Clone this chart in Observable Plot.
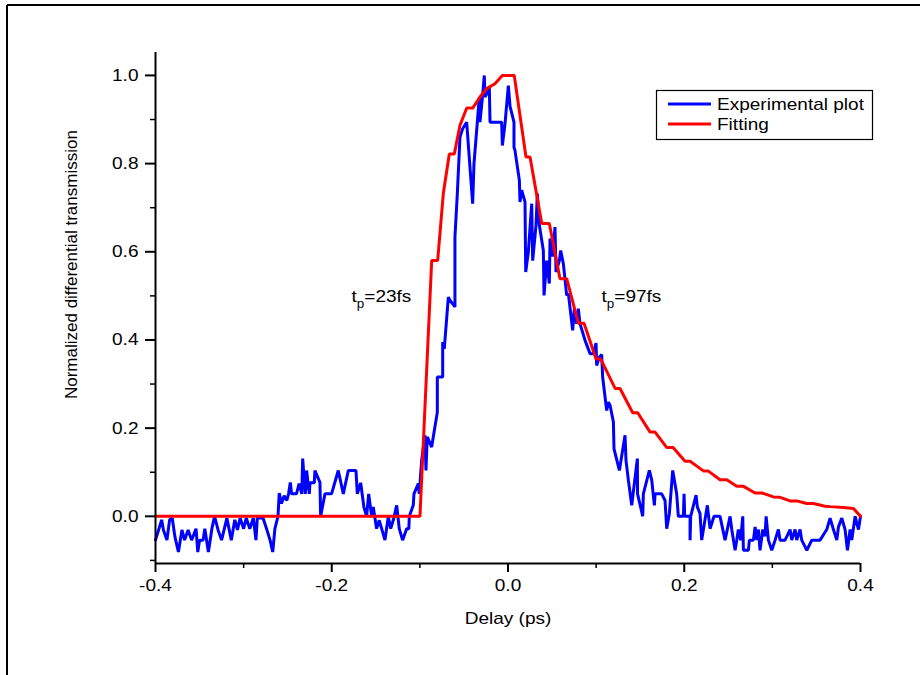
<!DOCTYPE html>
<html>
<head>
<meta charset="utf-8">
<script src="https://cdn.jsdelivr.net/npm/d3@7"></script>
<script src="https://cdn.jsdelivr.net/npm/@observablehq/plot@0.6"></script>
<style>
  html, body { margin: 0; padding: 0; background: #fff; }
  #chart { position: relative; width: 920px; height: 675px; }
</style>
</head>
<body>
<div id="chart"></div>
<script>
// Delay (ps), normalized differential transmission
const experimental = [
  [-0.400,-0.054],[-0.393,-0.008],[-0.391,-0.031],[-0.387,-0.054],[-0.384,-0.008],[-0.381,-0.004],[-0.378,-0.046],[-0.374,-0.081],[-0.370,-0.031],[-0.367,-0.054],
  [-0.363,-0.031],[-0.359,-0.054],[-0.354,-0.028],[-0.352,-0.081],[-0.350,-0.054],[-0.346,-0.054],[-0.344,-0.028],[-0.340,-0.081],[-0.336,-0.028],[-0.333,0.000],
  [-0.329,-0.031],[-0.325,-0.054],[-0.319,-0.004],[-0.314,-0.054],[-0.310,-0.008],[-0.307,-0.031],[-0.304,-0.004],[-0.300,-0.028],[-0.297,-0.004],[-0.293,-0.028],
  [-0.289,-0.004],[-0.286,-0.054],[-0.2845,-0.004],[-0.278,-0.004],[-0.274,-0.028],[-0.270,-0.054],[-0.267,-0.081],[-0.2645,-0.028],[-0.261,0.000],[-0.2596,0.053],
  [-0.257,0.029],[-0.254,0.047],[-0.251,0.036],[-0.249,0.051],[-0.247,0.077],[-0.2456,0.051],[-0.240,0.051],[-0.237,0.074],[-0.234,0.051],[-0.233,0.131],
  [-0.230,0.051],[-0.2285,0.104],[-0.2255,0.051],[-0.2247,0.076],[-0.2198,0.076],[-0.2191,0.104],[-0.2134,0.077],[-0.2126,0.000],[-0.2077,0.051],[-0.2002,0.051],
  [-0.1926,0.104],[-0.1869,0.051],[-0.1812,0.104],[-0.1725,0.104],[-0.1710,0.051],[-0.1672,0.076],[-0.1635,0.021],[-0.1604,0.000],[-0.1581,0.051],[-0.1547,0.000],
  [-0.1529,0.021],[-0.1491,-0.028],[-0.1461,-0.009],[-0.1396,-0.054],[-0.1358,0.000],[-0.1331,-0.028],[-0.1302,-0.009],[-0.1263,0.025],[-0.1234,-0.028],[-0.1196,-0.054],
  [-0.1150,-0.028],[-0.1125,-0.028],[-0.1120,0.000],[-0.1075,0.025],[-0.1067,0.051],[-0.1018,0.074],[-0.1007,0.051],[-0.0980,0.127],[-0.0942,0.184],[-0.0931,0.104],
  [-0.0916,0.180],[-0.0866,0.157],[-0.0848,0.180],[-0.0802,0.236],[-0.0802,0.316],[-0.0741,0.316],[-0.0741,0.395],[-0.0723,0.380],[-0.0677,0.497],[-0.0658,0.490],
  [-0.0602,0.475],[-0.0602,0.633],[-0.0575,0.732],[-0.0545,0.860],[-0.0515,0.879],[-0.0469,0.894],[-0.0401,0.709],[-0.0386,0.800],[-0.0348,0.894],[-0.0326,0.951],
  [-0.0318,0.894],[-0.0288,0.955],[-0.0269,1.000],[-0.0261,0.951],[-0.0235,0.960],[-0.0212,0.973],[-0.0204,0.894],[-0.0072,0.894],[-0.0064,0.841],[-0.0034,0.890],
  [0.0004,0.977],[0.0023,0.930],[0.0068,0.894],[0.0068,0.837],[0.0079,0.830],[0.0129,0.762],[0.0136,0.713],[0.0155,0.740],[0.0193,0.713],[0.0201,0.554],
  [0.0231,0.600],[0.0269,0.709],[0.0280,0.580],[0.0318,0.660],[0.0333,0.732],[0.0356,0.660],[0.0401,0.603],[0.0409,0.501],[0.0439,0.580],[0.0469,0.528],
  [0.0477,0.630],[0.0507,0.589],[0.0533,0.656],[0.0545,0.554],[0.0583,0.580],[0.0598,0.603],[0.0628,0.573],[0.0666,0.501],[0.0685,0.505],[0.0734,0.422],
  [0.0753,0.471],[0.0779,0.437],[0.0798,0.471],[0.0817,0.437],[0.0874,0.399],[0.0931,0.369],[0.0969,0.369],[0.0999,0.393],[0.1006,0.342],[0.1037,0.361],
  [0.1063,0.367],[0.1074,0.316],[0.1120,0.240],[0.1139,0.259],[0.1158,0.252],[0.1196,0.214],[0.1203,0.153],[0.1264,0.104],[0.1328,0.184],[0.1339,0.127],
  [0.1366,0.082],[0.1404,0.025],[0.1468,0.131],[0.1470,0.051],[0.1529,0.000],[0.1536,0.051],[0.1604,0.104],[0.1631,0.082],[0.1661,0.025],[0.1669,0.051],
  [0.1744,0.051],[0.1782,0.036],[0.1801,-0.028],[0.1831,0.006],[0.1869,0.104],[0.1914,0.051],[0.1933,0.000],[0.1990,0.000],[0.1998,0.051],[0.2005,0.000],
  [0.2066,0.000],[0.2066,-0.054],[0.2073,0.000],[0.2134,0.048],[0.2149,0.021],[0.2179,0.006],[0.2198,-0.054],[0.2262,0.025],[0.2293,-0.028],[0.2338,0.000],
  [0.2406,0.000],[0.2463,-0.054],[0.2520,0.000],[0.2539,-0.030],[0.2577,-0.077],[0.2596,-0.054],[0.2614,-0.030],[0.2640,-0.054],[0.2664,0.000],[0.2671,-0.077],
  [0.2728,-0.077],[0.2739,-0.054],[0.2785,-0.054],[0.2804,-0.024],[0.2823,-0.054],[0.2842,-0.030],[0.2860,-0.077],[0.2891,-0.030],[0.2917,-0.045],[0.2929,0.000],
  [0.2955,-0.054],[0.2993,-0.077],[0.3031,-0.054],[0.3068,-0.030],[0.3087,-0.054],[0.3144,-0.054],[0.3201,-0.030],[0.3220,-0.054],[0.3258,-0.030],[0.3277,-0.054],
  [0.3314,-0.030],[0.3333,-0.054],[0.3391,-0.077],[0.3447,-0.054],[0.3541,-0.054],[0.3617,-0.030],[0.3655,-0.004],[0.3693,-0.030],[0.3731,-0.054],[0.3750,-0.024],
  [0.3788,-0.004],[0.3825,-0.030],[0.3852,-0.077],[0.3882,-0.030],[0.3901,-0.054],[0.3939,0.000],[0.3977,-0.030],[0.4000,0.000]
];

const fitting = [
  [-0.400,0.000],[-0.0999,0.000],[-0.0866,0.580],[-0.0798,0.580],[-0.0734,0.732],[-0.0666,0.822],[-0.0609,0.822],[-0.0545,0.887],[-0.0468,0.926],[-0.0400,0.926],
  [-0.0318,0.951],[-0.0242,0.970],[-0.0148,0.981],[-0.0065,1.000],[0.0071,1.000],[0.0204,0.815],[0.0250,0.815],[0.0383,0.664],[0.0469,0.664],[0.0590,0.539],
  [0.0666,0.539],[0.0798,0.438],[0.0863,0.438],[0.0999,0.357],[0.1052,0.357],[0.1215,0.290],[0.1271,0.290],[0.1415,0.235],[0.1472,0.235],[0.1612,0.191],
  [0.1669,0.191],[0.1802,0.156],[0.1873,0.156],[0.2009,0.125],[0.2066,0.125],[0.2217,0.103],[0.2270,0.103],[0.2406,0.083],[0.2482,0.083],[0.2596,0.068],
  [0.2672,0.068],[0.2804,0.053],[0.2880,0.053],[0.3012,0.044],[0.3087,0.043],[0.3201,0.035],[0.3277,0.035],[0.3390,0.029],[0.3466,0.029],[0.3598,0.023],
  [0.3655,0.022],[0.3806,0.020],[0.3920,0.018],[0.4000,0.000]
];

const xTicks = [-0.4, -0.2, 0.0, 0.2, 0.4];
const xMinor = [-0.3, -0.1, 0.1, 0.3];
const yTicks = [0.0, 0.2, 0.4, 0.6, 0.8, 1.0];
const yMinor = [-0.1, 0.1, 0.3, 0.5, 0.7, 0.9];
const seriesNames = ["Experimental plot", "Fitting"];
const seriesColors = ["#0000ff", "#ff0000"];
const annotations = [
  {x: -0.177, y: 0.485, sub: "p", rest: "=23fs"},
  {x: 0.1067, y: 0.485, sub: "p", rest: "=97fs"}
];

const FONT = "'Liberation Sans', Arial, Helvetica, sans-serif";
const fmt = d => d.toFixed(1);
const XMIN = -0.4, YMIN = -0.107;

const plot = Plot.plot({
  width: 920,
  height: 675,
  marginLeft: 155,
  marginRight: 60,
  marginTop: 52,
  marginBottom: 112,
  x: {domain: [-0.4, 0.4]},
  y: {domain: [YMIN, 1.052]},
  style: {fontFamily: FONT, fontSize: "17px", background: "white", color: "black", overflow: "visible"},
  marks: [
    Plot.line(experimental, {x: d => d[0], y: d => d[1], stroke: seriesColors[0], strokeWidth: 3, strokeLinejoin: "miter"}),
    Plot.line(fitting, {x: d => d[0], y: d => d[1], stroke: seriesColors[1], strokeWidth: 3, strokeLinejoin: "miter"}),
    Plot.ruleX([XMIN], {stroke: "black", strokeWidth: 2}),
    Plot.ruleY([YMIN], {stroke: "black", strokeWidth: 2}),
    Plot.axisX(xTicks, {anchor: "bottom", tickSize: 9, tickPadding: 6, tickFormat: fmt, label: null, strokeWidth: 2, fontSize: 17, fill: "black"}),
    Plot.axisX(xMinor, {anchor: "bottom", tickSize: 5, tickFormat: () => "", label: null, strokeWidth: 1.5}),
    Plot.axisY(yTicks, {anchor: "left", tickSize: 10, tickPadding: 7, tickFormat: fmt, label: null, strokeWidth: 2, fontSize: 17, fill: "black"}),
    Plot.axisY(yMinor, {anchor: "left", tickSize: 5, tickFormat: () => "", label: null, strokeWidth: 1.5}),
    Plot.text(["Delay (ps)"], {x: 0, y: -0.232, text: d => d, fontSize: 17, fill: "black", textAnchor: "middle"}),
    Plot.text(["Normalized differential transmission"], {x: -0.4949, y: 0.571, text: d => d, rotate: -90, fontSize: 17, fill: "black", textAnchor: "middle"})
  ]
});

document.getElementById("chart").appendChild(plot);
const svg = d3.select(plot);
const sx = plot.scale("x"), sy = plot.scale("y");

// Annotations with subscript
annotations.forEach(a => {
  const t = svg.append("text")
    .attr("x", sx.apply(a.x)).attr("y", sy.apply(a.y))
    .attr("text-anchor", "start")
    .attr("font-family", FONT).attr("font-size", 17).attr("fill", "black");
  t.append("tspan").text("t");
  t.append("tspan").attr("dy", 6).attr("font-size", 12).text(a.sub);
  t.append("tspan").attr("dy", -6).text(a.rest);
});

// Legend
const lg = svg.append("g");
lg.append("rect").attr("x", 656.5).attr("y", 90.5).attr("width", 216).attr("height", 49)
  .attr("fill", "white").attr("stroke", "black").attr("stroke-width", 1.2);
seriesNames.forEach((name, i) => {
  const y = 104 + i * 20;
  lg.append("line").attr("x1", 668).attr("x2", 711).attr("y1", y).attr("y2", y)
    .attr("stroke", seriesColors[i]).attr("stroke-width", 3);
  lg.append("text").attr("x", 717).attr("y", y + 6).attr("text-anchor", "start")
    .attr("font-family", FONT).attr("font-size", 17).attr("fill", "black").text(name);
});

// Outer frame (top and left edges)
svg.append("line").attr("x1", 7).attr("x2", 920).attr("y1", 5).attr("y2", 5).attr("stroke", "black").attr("stroke-width", 2);
svg.append("line").attr("x1", 7).attr("x2", 7).attr("y1", 5).attr("y2", 675).attr("stroke", "black").attr("stroke-width", 2);

// Horizontal stretch of text about its own anchor point, to match the reference's wide lettering
plot.querySelectorAll("text").forEach(t => {
  const tr = t.getAttribute("transform") || "";
  if (tr.includes("rotate")) return;
  const xa = t.getAttribute("x");
  const x = (xa && !/em$/.test(xa)) ? +xa : 0;
  t.setAttribute("transform", `${tr} translate(${x},0) scale(1.12,1) translate(${-x},0)`);
});
</script>
</body>
</html>
